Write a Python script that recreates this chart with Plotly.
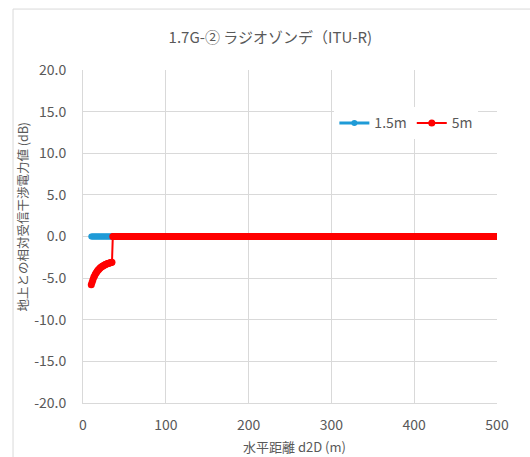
import plotly.graph_objects as go

# horizontal distance d2D (m)
dist_near = list(range(10, 36))
dist_far = list(range(36, 501))

# relative received interference power vs ground level (dB)
h15_near = [0.0] * len(dist_near)
h15_far = [0.0] * len(dist_far)
h5_near = [-5.8, -5.5, -5.2, -4.9, -4.7, -4.5, -4.35, -4.2, -4.05, -3.95,
           -3.85, -3.75, -3.67, -3.6, -3.53, -3.47, -3.42, -3.37, -3.32, -3.28,
           -3.25, -3.22, -3.19, -3.16, -3.13, -3.1]
h5_far = [0.0] * len(dist_far)

y_ticks = [-20, -15, -10, -5, 0, 5, 10, 15, 20]
y_ticktext = [f"{v:.1f}" for v in y_ticks]
x_ticks = [0, 100, 200, 300, 400, 500]

FONT = "Noto Sans CJK JP"
GRID = "#d9d9d9"
TXT = "#595959"

fig = go.Figure()
fig.add_trace(go.Scatter(
    x=dist_near + dist_far, y=h15_near + h15_far, name="1.5m",
    mode="lines+markers",
    line=dict(color="#1f9bd7", width=3),
    marker=dict(color="#1f9bd7", size=6),
))
fig.add_trace(go.Scatter(
    x=dist_near + dist_far, y=h5_near + h5_far, name="5m",
    mode="lines+markers",
    line=dict(color="#ff0000", width=2),
    marker=dict(color="#ff0000", size=7),
))

fig.update_layout(
    width=530, height=457,
    margin=dict(l=83, r=33, t=70, b=54, autoexpand=False),
    paper_bgcolor="white", plot_bgcolor="white",
    font=dict(family=FONT, size=14, color=TXT),
    title=dict(text="1.7G-② ラジオゾンデ（ITU-R)", x=0.51, xanchor="center",
               y=0.918, yanchor="middle",
               font=dict(family=FONT, size=15, color=TXT)),
    showlegend=True,
    legend=dict(orientation="h", x=0.955, xanchor="right", y=0.84, yanchor="middle",
                bgcolor="white", font=dict(family=FONT, size=14, color=TXT),
                itemwidth=30, traceorder="normal"),
    xaxis=dict(range=[0, 500], tickvals=x_ticks, showgrid=True, gridcolor=GRID,
               gridwidth=1, zeroline=False, showline=True, linecolor=GRID,
               ticks="", ticklabelstandoff=9, automargin=False,
               tickfont=dict(size=14, color=TXT)),
    yaxis=dict(range=[-20, 20], tickvals=y_ticks, ticktext=y_ticktext,
               showgrid=True, gridcolor=GRID, gridwidth=1, zeroline=False,
               showline=True, linecolor=GRID, ticks="", ticklabelstandoff=13,
               automargin=False, tickfont=dict(size=14, color=TXT)),
    annotations=[
        dict(text="水平距離 d2D (m)", xref="paper", yref="paper",
             x=0.51, y=-0.132, xanchor="center", yanchor="middle",
             showarrow=False, font=dict(family=FONT, size=13, color=TXT)),
        dict(text="地上との相対受信干渉電力値 (dB)", xref="paper", yref="paper",
             x=-0.145, y=0.56, xanchor="center", yanchor="middle", textangle=-90,
             showarrow=False, font=dict(family=FONT, size=12.5, color=TXT)),
    ],
    shapes=[dict(type="rect", xref="paper", yref="paper",
                 x0=-0.169, x1=1.2, y0=-0.3, y1=1.183,
                 line=dict(color="#d9d9d9", width=1), layer="below")],
)

fig.write_html("out.html")
